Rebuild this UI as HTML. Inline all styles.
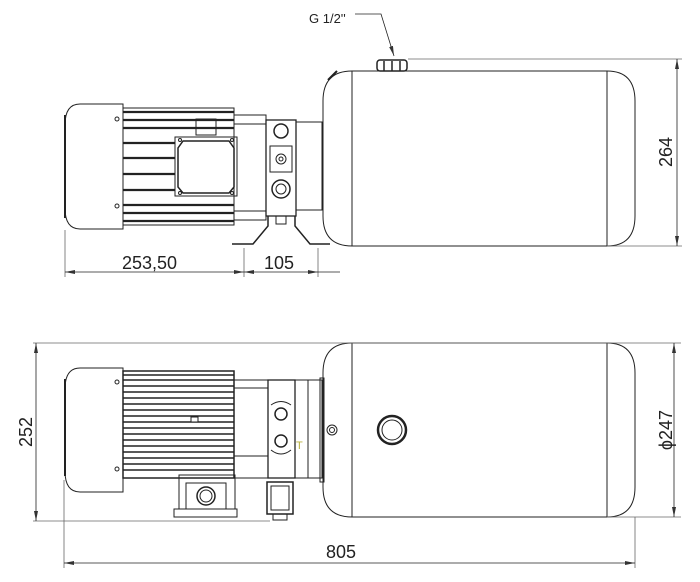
<!DOCTYPE html>
<html><head><meta charset="utf-8"><style>html,body{margin:0;padding:0;background:#fff}svg{display:block}</style></head><body>
<svg width="700" height="582" viewBox="0 0 700 582" xmlns="http://www.w3.org/2000/svg" font-family="Liberation Sans, sans-serif">
<defs>
<marker id="a" viewBox="0 0 10 4" refX="10" refY="2" markerWidth="10" markerHeight="4" orient="auto-start-reverse" markerUnits="userSpaceOnUse"><path d="M0,0 L10,2 L0,4 z" fill="#333"/></marker>
</defs>
<g fill="none" stroke="#222" stroke-width="1">
<path d="M352,71 H607 Q635,71 635,101 V216 Q635,246 607,246 H352 Q323,246 323,216 V101 Q323,71 352,71 Z"/>
<line x1="352" y1="71" x2="352" y2="246"/><line x1="607" y1="71" x2="607" y2="246"/>
<rect x="377" y="60" width="30" height="11" rx="3" stroke-width="1.5"/>
<line x1="384" y1="61" x2="384" y2="71" stroke-width="1.5"/><line x1="392" y1="61" x2="392" y2="71" stroke-width="1.5"/><line x1="400" y1="61" x2="400" y2="71" stroke-width="1.5"/>
<line x1="328" y1="80" x2="337" y2="71" stroke-width="2"/>
<polyline points="355,14 381,14 394,56" stroke-width="0.8" marker-end="url(#a)"/>
<line x1="408" y1="59" x2="682" y2="59" stroke="#666" stroke-width="0.8"/>
<line x1="607" y1="246" x2="682" y2="246" stroke="#666" stroke-width="0.8"/>
<line x1="677" y1="59" x2="677" y2="246" stroke-width="0.8" marker-start="url(#a)" marker-end="url(#a)"/>
<path d="M123,104 H80 Q65,104 65,125 V208 Q65,229 80,229 H123 Z"/>
<line x1="65" y1="115" x2="65" y2="218" stroke-width="2"/>
<rect x="123" y="108" width="111" height="117"/>
<g stroke-width="2.2">
<line x1="123" y1="112" x2="234" y2="112"/><line x1="123" y1="120" x2="234" y2="120"/><line x1="123" y1="128" x2="234" y2="128"/><line x1="123" y1="143" x2="175" y2="143"/><line x1="123" y1="158" x2="175" y2="158"/><line x1="123" y1="174" x2="175" y2="174"/><line x1="123" y1="190" x2="175" y2="190"/><line x1="123" y1="205" x2="234" y2="205"/><line x1="123" y1="213" x2="234" y2="213"/><line x1="123" y1="221" x2="234" y2="221"/>
</g>
<circle cx="117" cy="119" r="2"/><circle cx="117" cy="206" r="2"/>
<path d="M175,137 L237,137 L237,196 L175,196 Z" fill="#fff"/>
<path d="M183,141 H229 L234,148 V187 L229,193 H183 L178,187 V148 Z" stroke-width="1.5"/>
<circle cx="180" cy="140" r="1.5"/><circle cx="232" cy="140" r="1.5"/><circle cx="180" cy="193" r="1.5"/><circle cx="232" cy="193" r="1.5"/>
<rect x="196" y="119" width="20" height="16"/>
<rect x="234" y="115" width="32" height="105"/>
<line x1="234" y1="124" x2="266" y2="124"/><line x1="234" y1="211" x2="266" y2="211"/>
<rect x="266" y="120" width="30" height="96" stroke-width="1.3"/>
<circle cx="281" cy="131" r="7" stroke-width="1.5"/>
<rect x="270" y="146" width="22" height="26"/><circle cx="281" cy="159" r="5"/><circle cx="281" cy="159" r="2"/>
<circle cx="281" cy="189" r="9" stroke-width="1.5"/><circle cx="281" cy="189" r="5"/>
<rect x="296" y="122" width="26" height="88"/>
<rect x="276" y="216" width="10" height="8"/>
<polyline points="232,244 253,244 268,226 268,216" stroke-width="1.5"/>
<polyline points="330,244 310,244 295,226 295,216" stroke-width="1.5"/>
<line x1="65" y1="230" x2="65" y2="277" stroke="#666" stroke-width="0.8"/>
<line x1="244" y1="248" x2="244" y2="277" stroke="#666" stroke-width="0.8"/>
<line x1="318" y1="248" x2="318" y2="277" stroke="#666" stroke-width="0.8"/>
<line x1="65" y1="272" x2="244" y2="272" stroke-width="0.8" marker-start="url(#a)" marker-end="url(#a)"/>
<line x1="244" y1="272" x2="318" y2="272" stroke-width="0.8" marker-start="url(#a)" marker-end="url(#a)"/>
<line x1="318" y1="272" x2="340" y2="272" stroke-width="0.8"/>

<path d="M352,343 H607 Q635,343 635,373 V487 Q635,517 607,517 H352 Q323,517 323,487 V373 Q323,343 352,343 Z"/>
<line x1="352" y1="343" x2="352" y2="517"/><line x1="607" y1="343" x2="607" y2="517"/>
<circle cx="392" cy="430" r="14" stroke-width="2.5"/><circle cx="392" cy="430" r="10"/>
<rect x="320" y="378" width="4" height="104"/>
<circle cx="332" cy="430" r="5"/><circle cx="332" cy="430" r="2.5"/>
<line x1="33" y1="343" x2="681" y2="343" stroke="#666" stroke-width="0.8"/>
<line x1="33" y1="521" x2="270" y2="521" stroke="#666" stroke-width="0.8"/>
<line x1="607" y1="517" x2="681" y2="517" stroke="#666" stroke-width="0.8"/>
<line x1="36" y1="343" x2="36" y2="521" stroke-width="0.8" marker-start="url(#a)" marker-end="url(#a)"/>
<line x1="674" y1="343" x2="674" y2="517" stroke-width="0.8" marker-start="url(#a)" marker-end="url(#a)"/>
<line x1="64" y1="480" x2="64" y2="568" stroke="#666" stroke-width="0.8"/>
<line x1="635" y1="517" x2="635" y2="568" stroke="#666" stroke-width="0.8"/>
<line x1="64" y1="563" x2="635" y2="563" stroke-width="0.8" marker-start="url(#a)" marker-end="url(#a)"/>
<path d="M123,368 H80 Q65,368 65,389 V471 Q65,492 80,492 H123 Z"/>
<line x1="65" y1="379" x2="65" y2="476" stroke-width="2"/>
<circle cx="117" cy="382" r="2"/><circle cx="117" cy="469" r="2"/>
<rect x="123" y="371" width="111" height="107" stroke-width="1.5"/>
<g stroke-width="1.6">
<line x1="123" y1="375" x2="234" y2="375"/><line x1="123" y1="380" x2="234" y2="380"/><line x1="123" y1="386" x2="234" y2="386"/><line x1="123" y1="392" x2="234" y2="392"/><line x1="123" y1="398" x2="234" y2="398"/><line x1="123" y1="404" x2="234" y2="404"/><line x1="123" y1="410" x2="234" y2="410"/><line x1="123" y1="416" x2="234" y2="416"/><line x1="123" y1="422" x2="234" y2="422"/><line x1="123" y1="428" x2="234" y2="428"/><line x1="123" y1="434" x2="234" y2="434"/><line x1="123" y1="440" x2="234" y2="440"/><line x1="123" y1="446" x2="234" y2="446"/><line x1="123" y1="452" x2="234" y2="452"/><line x1="123" y1="458" x2="234" y2="458"/><line x1="123" y1="464" x2="234" y2="464"/><line x1="123" y1="470" x2="234" y2="470"/>
</g>
<rect x="191" y="417" width="7" height="5" fill="#fff"/>
<rect x="179" y="475" width="56" height="34"/>
<rect x="186" y="483" width="40" height="26"/>
<circle cx="206" cy="496" r="9" stroke-width="1.5"/><circle cx="206" cy="496" r="6"/>
<rect x="174" y="509" width="63" height="8"/>
<rect x="234" y="380" width="34" height="98"/>
<line x1="234" y1="388" x2="268" y2="388"/><line x1="234" y1="456" x2="268" y2="456"/>
<rect x="268" y="380" width="27" height="98" stroke-width="1.3"/>
<circle cx="281" cy="414" r="6" stroke-width="1.5"/><circle cx="281" cy="441" r="6" stroke-width="1.5"/>
<path d="M271,405 Q281,398 291,405 M271,450 Q281,458 291,450" />
<rect x="295" y="380" width="27" height="98"/>
<line x1="308" y1="380" x2="308" y2="478"/>
<rect x="267" y="482" width="26" height="32" stroke-width="1.5"/>
<rect x="271" y="486" width="18" height="24"/>
<rect x="273" y="514" width="14" height="6"/>
</g>
<g fill="#222" font-size="18">
<text x="309" y="23" font-size="13">G 1/2''</text>
<text x="122" y="269">253,50</text>
<text x="264" y="269">105</text>
<text x="341" y="558" text-anchor="middle">805</text>
<text transform="translate(672,152) rotate(-90)" text-anchor="middle">264</text>
<text transform="translate(672,430) rotate(-90)" text-anchor="middle">ϕ247</text>
<text transform="translate(32,432) rotate(-90)" text-anchor="middle">252</text>
<text x="296" y="449" font-size="11" fill="#b8b040">T</text>
</g>
</svg>
</body></html>
